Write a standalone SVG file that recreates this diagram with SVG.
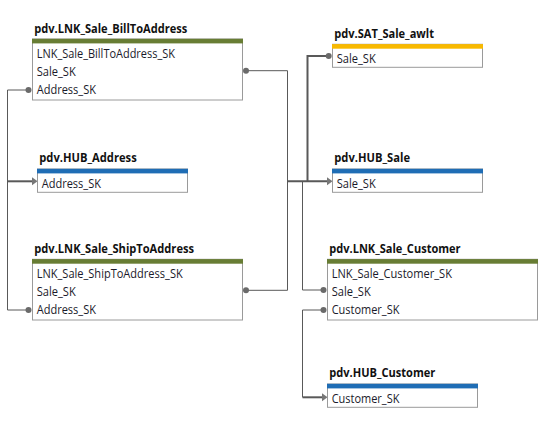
<svg xmlns="http://www.w3.org/2000/svg" width="554" height="423" viewBox="0 0 554 423">
<style>
.box{fill:#fff;stroke:#9a9a9a;stroke-width:1}
.title{font-family:"Open Sans","Noto Sans","Liberation Sans",sans-serif;font-weight:bold;font-size:12px;fill:#111}
.row{font-family:"Open Sans","Noto Sans","Liberation Sans",sans-serif;font-size:12px;fill:#1a1a2a}
.lnk{fill:#687d34}
.hub{fill:#1f6db5}
.sat{fill:#f8b900}
.c{fill:none;stroke:#595959;stroke-width:1}
.ct{fill:none;stroke:#595959;stroke-width:2}
.dot{fill:#6a6a6a}
.arr{fill:#777}
</style>
<rect width="554" height="423" fill="#fff"/>
<g id="connectors">
  <polyline class="c" points="28,90 7.5,90 7.5,310 28,310"/>
  <line class="ct" x1="7.5" y1="181.3" x2="33" y2="181.3"/>
  <polygon class="arr" points="37.5,181.3 32,177.3 32,185.3"/>
  <polyline class="c" points="246,70.7 287.5,70.7 287.5,290.3 246,290.3"/>
  <line class="ct" x1="287.5" y1="181.3" x2="328" y2="181.3"/>
  <polygon class="arr" points="332.5,181.3 327,177.3 327,185.3"/>
  <polyline class="ct" points="307.5,181.3 307.5,56 328,56"/>
  <polyline class="c" points="302.5,181.3 302.5,290 323,290"/>
  <polyline class="c" points="323,310 302.5,310 302.5,397.3"/>
  <line class="ct" x1="302.5" y1="397.3" x2="323" y2="397.3"/>
  <polygon class="arr" points="327.5,397.3 322,393.3 322,401.3"/>
  <circle class="dot" cx="28.5" cy="90" r="3"/>
  <circle class="dot" cx="28.5" cy="310" r="3"/>
  <circle class="dot" cx="246" cy="70.7" r="3"/>
  <circle class="dot" cx="246" cy="290.3" r="3"/>
  <circle class="dot" cx="328.7" cy="56" r="3"/>
  <circle class="dot" cx="323.5" cy="290" r="3"/>
  <circle class="dot" cx="323.5" cy="310" r="3"/>
</g>
<g id="lnk_sale_billtoaddress">
  <text class="title" x="34.3" y="32.5" textLength="153" lengthAdjust="spacingAndGlyphs">pdv.LNK_Sale_BillToAddress</text>
  <rect class="box" x="32.5" y="39" width="210" height="61"/>
  <rect class="lnk" x="32" y="38.8" width="211" height="4.6"/>
  <text class="row" x="36.7" y="57.8" textLength="138.3" lengthAdjust="spacingAndGlyphs">LNK_Sale_BillToAddress_SK</text>
  <text class="row" x="36.7" y="76.1" textLength="39" lengthAdjust="spacingAndGlyphs">Sale_SK</text>
  <text class="row" x="36.7" y="94.4" textLength="59.3" lengthAdjust="spacingAndGlyphs">Address_SK</text>
</g>
<g id="hub_address">
  <text class="title" x="39.3" y="162" textLength="97.4" lengthAdjust="spacingAndGlyphs">pdv.HUB_Address</text>
  <rect class="box" x="37.5" y="169" width="150" height="23.3"/>
  <rect class="hub" x="37" y="168.8" width="151" height="4.6"/>
  <text class="row" x="41.7" y="187.8" textLength="59.3" lengthAdjust="spacingAndGlyphs">Address_SK</text>
</g>
<g id="lnk_sale_shiptoaddress">
  <text class="title" x="34.3" y="252.7" textLength="159.7" lengthAdjust="spacingAndGlyphs">pdv.LNK_Sale_ShipToAddress</text>
  <rect class="box" x="32.5" y="259.3" width="210" height="60.7"/>
  <rect class="lnk" x="32" y="259.1" width="211" height="4.6"/>
  <text class="row" x="36.7" y="277.7" textLength="146" lengthAdjust="spacingAndGlyphs">LNK_Sale_ShipToAddress_SK</text>
  <text class="row" x="36.7" y="296" textLength="39" lengthAdjust="spacingAndGlyphs">Sale_SK</text>
  <text class="row" x="36.7" y="314.3" textLength="59.3" lengthAdjust="spacingAndGlyphs">Address_SK</text>
</g>
<g id="sat_sale_awlt">
  <text class="title" x="334.3" y="37.5" textLength="99.7" lengthAdjust="spacingAndGlyphs">pdv.SAT_Sale_awlt</text>
  <rect class="box" x="332.5" y="44.3" width="150" height="23"/>
  <rect class="sat" x="332" y="44.1" width="151" height="4.6"/>
  <text class="row" x="336.7" y="63.3" textLength="39" lengthAdjust="spacingAndGlyphs">Sale_SK</text>
</g>
<g id="hub_sale">
  <text class="title" x="334.3" y="162" textLength="75.7" lengthAdjust="spacingAndGlyphs">pdv.HUB_Sale</text>
  <rect class="box" x="332.5" y="169" width="150" height="23.3"/>
  <rect class="hub" x="332" y="168.8" width="151" height="4.6"/>
  <text class="row" x="336.7" y="187.8" textLength="39" lengthAdjust="spacingAndGlyphs">Sale_SK</text>
</g>
<g id="lnk_sale_customer">
  <text class="title" x="329.3" y="252.7" textLength="131.3" lengthAdjust="spacingAndGlyphs">pdv.LNK_Sale_Customer</text>
  <rect class="box" x="327.5" y="259.3" width="210" height="60.7"/>
  <rect class="lnk" x="327" y="259.1" width="211" height="4.6"/>
  <text class="row" x="331.7" y="277.7" textLength="120.3" lengthAdjust="spacingAndGlyphs">LNK_Sale_Customer_SK</text>
  <text class="row" x="331.7" y="296" textLength="39" lengthAdjust="spacingAndGlyphs">Sale_SK</text>
  <text class="row" x="331.7" y="314.3" textLength="67.7" lengthAdjust="spacingAndGlyphs">Customer_SK</text>
</g>
<g id="hub_customer">
  <text class="title" x="329.3" y="377" textLength="106" lengthAdjust="spacingAndGlyphs">pdv.HUB_Customer</text>
  <rect class="box" x="327.5" y="384" width="150" height="23.3"/>
  <rect class="hub" x="327" y="383.8" width="151" height="4.6"/>
  <text class="row" x="331.7" y="403.3" textLength="67.7" lengthAdjust="spacingAndGlyphs">Customer_SK</text>
</g>
</svg>
